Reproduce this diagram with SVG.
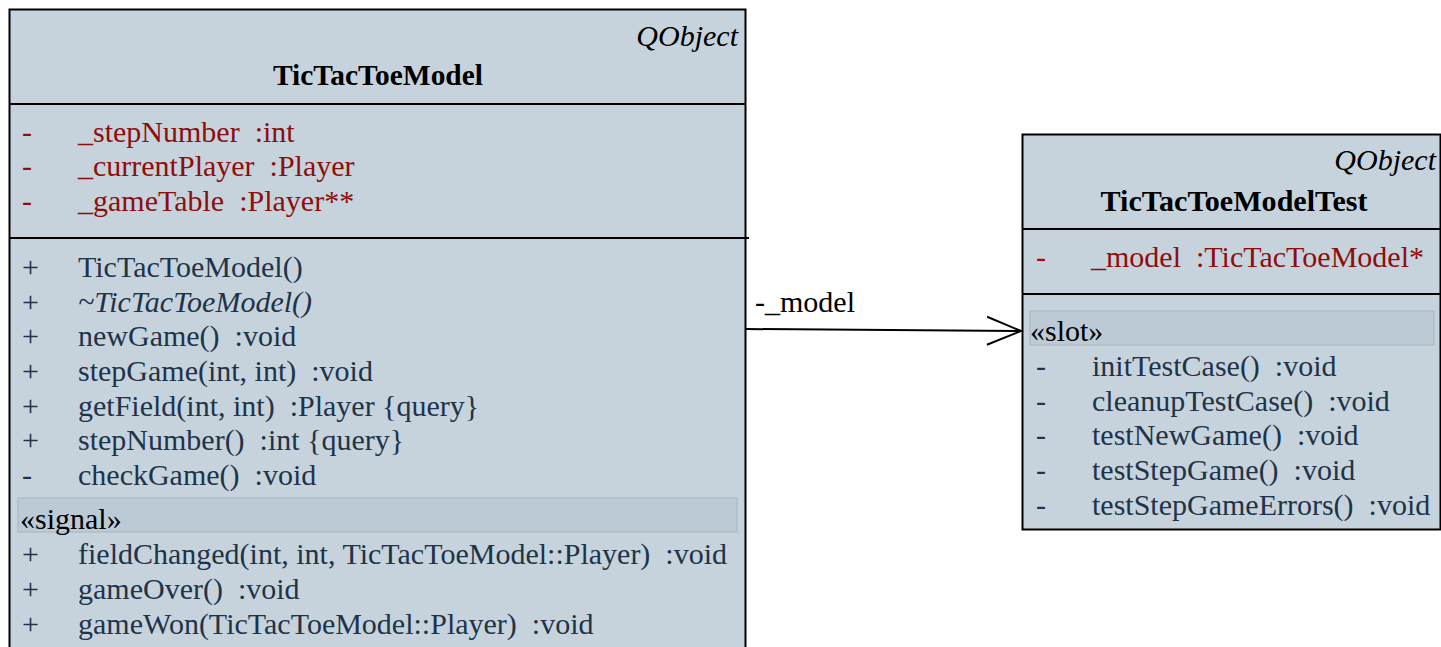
<svg xmlns="http://www.w3.org/2000/svg" width="1441" height="647" viewBox="0 0 1441 647">
<defs>
<style>
.t{font-family:"Liberation Serif","Times New Roman",serif;font-size:30px;white-space:pre}
.box{fill:#c6d3dc;stroke:#000;stroke-width:2}
.sep{stroke:#000;stroke-width:2}
.band{fill:#bccad5;stroke:#aebfca;stroke-width:1.5}
.hdr{font-style:italic;fill:#000;text-anchor:end}
.ttl{font-weight:bold;fill:#000;text-anchor:middle}
.attr{fill:#8e0d0d}
.op{fill:#1e3448}
.st{fill:#000}
.conn{stroke:#000;stroke-width:2;fill:none}
</style>
<marker id="open" viewBox="0 0 40 34" refX="37" refY="17" markerWidth="40" markerHeight="34" markerUnits="userSpaceOnUse" orient="auto"><path d="M3,3 L37,17 L3,31" fill="none" stroke="#000" stroke-width="2"/></marker>
</defs>
<rect width="1441" height="647" fill="#fff"/>
<g id="TicTacToeModel" font-family="Liberation Serif" font-size="30">
<rect class="box" x="9.5" y="9.5" width="736" height="700"/>
<line class="sep" x1="9" y1="104" x2="746" y2="104"/>
<line class="sep" x1="9" y1="238" x2="749" y2="238"/>
<text class="t hdr" x="738" y="46">QObject</text>
<text class="t ttl" x="378" y="85" textLength="210" lengthAdjust="spacingAndGlyphs">TicTacToeModel</text>
<text class="t attr" x="22" y="142">-</text><text class="t attr" x="78" y="142">_stepNumber  :int</text>
<text class="t attr" x="22" y="176">-</text><text class="t attr" x="78" y="176">_currentPlayer  :Player</text>
<text class="t attr" x="22" y="211">-</text><text class="t attr" x="78" y="211">_gameTable  :Player**</text>
<text class="t op" x="22" y="277">+</text><text class="t op" x="78" y="277">TicTacToeModel()</text>
<text class="t op" x="22" y="312">+</text><text class="t op" x="78" y="312" font-style="italic">~TicTacToeModel()</text>
<text class="t op" x="22" y="346">+</text><text class="t op" x="78" y="346">newGame()  :void</text>
<text class="t op" x="22" y="381">+</text><text class="t op" x="78" y="381">stepGame(int, int)  :void</text>
<text class="t op" x="22" y="416">+</text><text class="t op" x="78" y="416">getField(int, int)  :Player {query}</text>
<text class="t op" x="22" y="450">+</text><text class="t op" x="78" y="450">stepNumber()  :int {query}</text>
<text class="t op" x="22" y="485">-</text><text class="t op" x="78" y="485">checkGame()  :void</text>
<rect class="band" x="18" y="498" width="719" height="34"/>
<text class="t st" x="20" y="529">«signal»</text>
<text class="t op" x="22" y="564">+</text><text class="t op" x="78" y="564">fieldChanged(int, int, TicTacToeModel::Player)  :void</text>
<text class="t op" x="22" y="599">+</text><text class="t op" x="78" y="599">gameOver()  :void</text>
<text class="t op" x="22" y="634">+</text><text class="t op" x="78" y="634">gameWon(TicTacToeModel::Player)  :void</text>
</g>
<g id="TicTacToeModelTest" font-family="Liberation Serif" font-size="30">
<rect class="box" x="1022.5" y="134.5" width="418" height="395"/>
<line class="sep" x1="1022" y1="229" x2="1441" y2="229"/>
<line class="sep" x1="1022" y1="294" x2="1441" y2="294"/>
<text class="t hdr" x="1436" y="170">QObject</text>
<text class="t ttl" x="1234" y="211" textLength="267" lengthAdjust="spacingAndGlyphs">TicTacToeModelTest</text>
<text class="t" x="1036" y="267" fill="#c00000">-</text><text class="t attr" x="1091" y="267">_model  :TicTacToeModel*</text>
<rect class="band" x="1030" y="311" width="404" height="34"/>
<text class="t st" x="1030" y="341">«slot»</text>
<text class="t op" x="1036" y="376">-</text><text class="t op" x="1092" y="376">initTestCase()  :void</text>
<text class="t op" x="1036" y="411">-</text><text class="t op" x="1092" y="411">cleanupTestCase()  :void</text>
<text class="t op" x="1036" y="445">-</text><text class="t op" x="1092" y="445">testNewGame()  :void</text>
<text class="t op" x="1036" y="480">-</text><text class="t op" x="1092" y="480">testStepGame()  :void</text>
<text class="t op" x="1036" y="515">-</text><text class="t op" x="1092" y="515">testStepGameErrors()  :void</text>
</g>
<g id="connectors" font-family="Liberation Serif" font-size="30">
<line class="conn" x1="746" y1="329" x2="1021" y2="331" marker-end="url(#open)"/>
<text class="t st" x="755" y="312">-_model</text>
</g>
</svg>
